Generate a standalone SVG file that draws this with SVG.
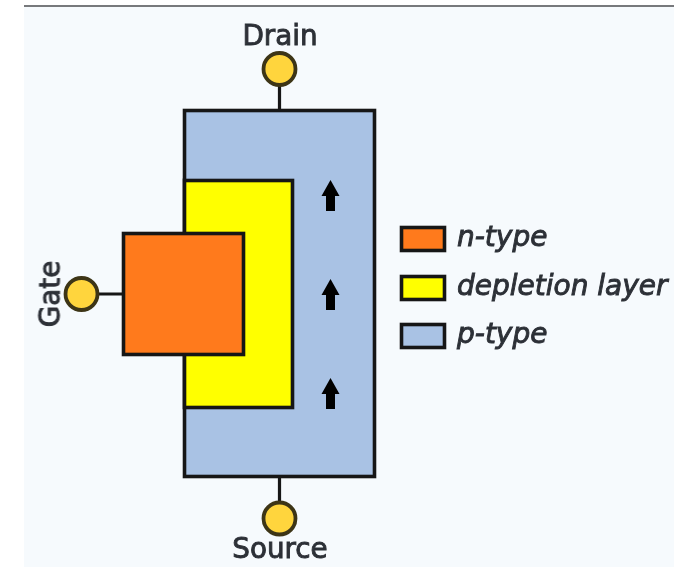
<svg xmlns="http://www.w3.org/2000/svg" width="674" height="567" viewBox="0 0 674 567">
<defs><filter id="soft" x="-2%" y="-2%" width="104%" height="104%"><feGaussianBlur stdDeviation="0.6"/></filter></defs>
<style>
.b{stroke:#151515;stroke-width:3.6}
.t{font-family:"DejaVu Sans",sans-serif;font-size:27.800px;fill:#2d3037;text-anchor:middle;stroke:#2d3037;stroke-width:.9}
.l{font-family:"DejaVu Sans",sans-serif;font-size:28px;font-style:italic;fill:#2d3037;stroke:#2d3037;stroke-width:.9}
.c{fill:#ffd53d;stroke:#3c3518;stroke-width:3.8}
.n{fill:#ff7a1c}.d{fill:#ffff00}.p{fill:#a9c2e4}
</style>
<rect width="674" height="567" fill="#ffffff"/>
<rect x="24" y="6" width="650" height="561" fill="#f6fafd"/>
<rect x="24" y="5" width="650" height="2" fill="#77797c"/>
<g filter="url(#soft)">
<g id="connectors" fill="none" stroke="#151515" stroke-width="3.2">
<path d="M279.500 85V110M279.500 478V503M97 294H123"/>
</g>
<g id="p-type-body"><rect class="p b" x="184.500" y="110.500" width="190" height="366"/></g>
<g id="depletion-layer"><rect class="d b" x="184.500" y="180.500" width="108" height="227"/></g>
<g id="gate-block"><rect class="n b" x="123.500" y="233.500" width="120" height="121"/></g>
<g id="flow-arrows" fill="#000">
<path id="arrow-top" d="M330.500 180L339.500 196H335V211H326V196H321.500Z"/>
<path id="arrow-mid" d="M330.500 279L339.500 295H335V310H326V295H321.500Z"/>
<path id="arrow-bot" d="M330.500 378L339.500 394H335V409H326V394H321.500Z"/>
</g>
<g id="drain"><circle class="c" cx="279.500" cy="69" r="16"/><text class="t" x="280" y="45">Drain</text></g>
<g id="source"><circle class="c" cx="279.500" cy="518.500" r="16"/><text class="t" x="280" y="558">Source</text></g>
<g id="gate"><circle class="c" cx="81.500" cy="294" r="16"/><text class="t" transform="translate(59.500 294) rotate(-90)">Gate</text></g>
<g id="legend-n"><rect class="n b" x="401.500" y="227.500" width="43" height="23"/><text class="l" x="457" y="246">n-type</text></g>
<g id="legend-depletion"><rect class="d b" x="401.500" y="276.500" width="43" height="23"/><text class="l" x="457" y="295">depletion layer</text></g>
<g id="legend-p"><rect class="p b" x="401.500" y="324.500" width="43" height="23"/><text class="l" x="457" y="343">p-type</text></g>
</g>
</svg>
